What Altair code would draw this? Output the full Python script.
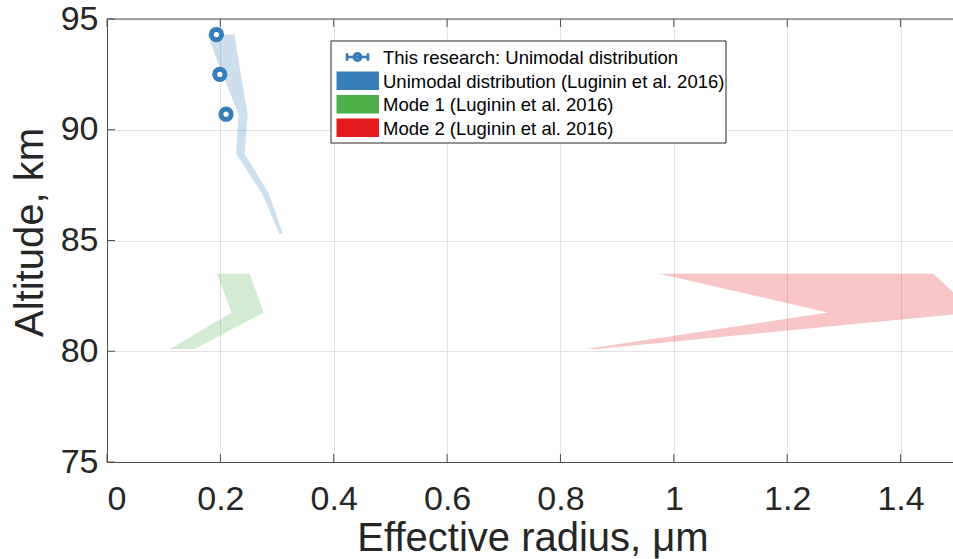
import altair as alt
import pandas as pd

# Luginin et al. (2016): altitude (km) with lower / upper effective radius (um)
uni_alt = [94.3, 92.5, 90.7, 88.9, 87.1, 85.3]
uni_lo = [0.177, 0.204, 0.232, 0.228, 0.274, 0.304]
uni_hi = [0.225, 0.236, 0.248, 0.243, 0.286, 0.310]

mode_alt = [83.5, 81.75, 80.1]
mode1_lo = [0.194, 0.220, 0.111]
mode1_hi = [0.252, 0.276, 0.154]
mode2_lo = [0.975, 1.272, 0.845]
mode2_hi = [1.458, 1.530, 0.865]

# This research: unimodal distribution, radius with error
this_alt = [94.3, 92.5, 90.7]
this_r = [0.193, 0.199, 0.210]
this_err = [0.007, 0.007, 0.007]

x_ticks = [0, 0.2, 0.4, 0.6, 0.8, 1.0, 1.2, 1.4]
y_ticks = [75, 80, 85, 90, 95]

legend_labels = [
    "This research: Unimodal distribution",
    "Unimodal distribution (Luginin et al. 2016)",
    "Mode 1 (Luginin et al. 2016)",
    "Mode 2 (Luginin et al. 2016)",
]
BLUE, GREEN, RED = "#377eb8", "#4daf4a", "#e41a1c"
legend_colors = [BLUE, BLUE, GREEN, RED]

W, H = 846, 443
FONT = "Liberation Sans"
INK = "#262626"

xscale = alt.Scale(domain=[0, 1.4925], nice=False, zero=False)
yscale = alt.Scale(domain=[75, 95], nice=False, zero=False)
xaxis = alt.Axis(
    title="Effective radius, μm", values=x_ticks, format=".1~f",
    titleX=425.5, titleY=88, titleAlign="center", titleBaseline="alphabetic",
)
yaxis = alt.Axis(
    title="Altitude, km", values=y_ticks,
    titleAngle=270, titleX=-65, titleY=213, titleAlign="center",
    titleBaseline="alphabetic",
)


def xq(field):
    return alt.X(field, type="quantitative", scale=xscale, axis=xaxis)


def yq(field):
    return alt.Y(field, type="quantitative", scale=yscale, axis=yaxis)


def band(alts, lo, hi, color):
    df = pd.DataFrame({"alt": alts, "lo": lo, "hi": hi})
    return alt.Chart(df).mark_area(
        orient="horizontal", color=color, opacity=0.25, clip=True
    ).encode(y=yq("alt"), x=xq("lo"), x2="hi")


uni_band = band(uni_alt, uni_lo, uni_hi, BLUE)
m1_band = band(mode_alt, mode1_lo, mode1_hi, GREEN)
m2_band = band(mode_alt, mode2_lo, mode2_hi, RED)

pts = pd.DataFrame({"alt": this_alt, "r": this_r, "err": this_err})
pts["lo"] = pts["r"] - pts["err"]
pts["hi"] = pts["r"] + pts["err"]
markers = alt.Chart(pts).mark_point(
    shape="circle", filled=False, fill="white", fillOpacity=1,
    stroke=BLUE, strokeWidth=5, size=105, opacity=1,
).encode(x=xq("r"), y=yq("alt"))
errbars = alt.Chart(pts).mark_rule(color=BLUE, strokeWidth=2.2).encode(
    x=xq("lo"), x2="hi", y=yq("alt")
)

# inward tick marks and top frame
xt = pd.DataFrame({"v": x_ticks})
yt = pd.DataFrame({"v": y_ticks})
ticks_bottom = alt.Chart(xt).mark_rule(color="#4d4d4d").encode(
    x=xq("v"), y=alt.value(H), y2=alt.value(H - 8)
)
ticks_top = alt.Chart(xt).mark_rule(color="#4d4d4d").encode(
    x=xq("v"), y=alt.value(0), y2=alt.value(8)
)
ticks_left = alt.Chart(yt).mark_rule(color="#4d4d4d").encode(
    y=yq("v"), x=alt.value(0), x2=alt.value(8)
)
top_frame = alt.Chart(pd.DataFrame({"v": [95]})).mark_rule(color="#4d4d4d").encode(
    y=yq("v"), x=alt.value(0), x2=alt.value(W)
)

# legend box
one = pd.DataFrame({"k": [0]})
lx0, lx1, ly0, ly1 = 224, 619, 22, 124
box = alt.Chart(one).mark_rect(fill="white", stroke=INK, strokeWidth=1).encode(
    x=alt.value(lx0), x2=alt.value(lx1), y=alt.value(ly0), y2=alt.value(ly1)
)
row_y = [38, 61.7, 85.3, 108.8]
legend_layers = [box]
# errorbar icon for first entry
cy = row_y[0]
legend_layers += [
    alt.Chart(one).mark_rule(color=BLUE, strokeWidth=2.6).encode(
        x=alt.value(239.5), x2=alt.value(261.5), y=alt.value(cy)
    ),
    alt.Chart(one).mark_rule(color=BLUE, strokeWidth=2.6).encode(
        x=alt.value(240), y=alt.value(cy - 3.8), y2=alt.value(cy + 3.8)
    ),
    alt.Chart(one).mark_rule(color=BLUE, strokeWidth=2.6).encode(
        x=alt.value(261), y=alt.value(cy - 3.8), y2=alt.value(cy + 3.8)
    ),
    alt.Chart(one).mark_point(
        shape="circle", filled=False, fill="white", fillOpacity=1,
        stroke=BLUE, strokeWidth=3.4, size=42, opacity=1,
    ).encode(x=alt.value(250.5), y=alt.value(cy)),
    alt.Chart(one).mark_rule(color=BLUE, strokeWidth=2).encode(
        x=alt.value(247.5), x2=alt.value(253.5), y=alt.value(cy)
    ),
]
for i, (lab, col) in enumerate(zip(legend_labels, legend_colors)):
    y = row_y[i]
    if i > 0:
        legend_layers.append(
            alt.Chart(one).mark_rect(fill=col).encode(
                x=alt.value(229.5), x2=alt.value(272), y=alt.value(y - 9.3),
                y2=alt.value(y + 9.3)
            )
        )
    legend_layers.append(
        alt.Chart(one).mark_text(
            text=lab, align="left", baseline="middle", font=FONT,
            fontSize=18.5, color="#000000", dy=1,
        ).encode(x=alt.value(276), y=alt.value(y))
    )

chart = alt.layer(
    uni_band, m1_band, m2_band, errbars, markers,
    ticks_bottom, ticks_top, ticks_left, top_frame,
    *legend_layers,
).properties(
    width=W, height=H,
    autosize=alt.AutoSizeParams(type="none"),
    padding={"left": 107, "top": 19, "right": 0, "bottom": 97},
).configure_view(stroke=None).configure_axis(
    grid=True, gridColor="#e2e2e2", gridWidth=1,
    domain=True, domainColor="#4d4d4d", domainWidth=1,
    ticks=False,
    labelFont=FONT, labelFontSize=34, labelColor=INK,
    titleFont=FONT, titleFontSize=40, titleFontWeight="normal", titleColor=INK,
).configure_axisX(labelPadding=20, labelBaseline="top").configure_axisY(
    labelPadding=9, labelBaseline="middle", labelAlign="right"
)

chart.save("out.html", embed_options={"renderer": "svg", "actions": False})
